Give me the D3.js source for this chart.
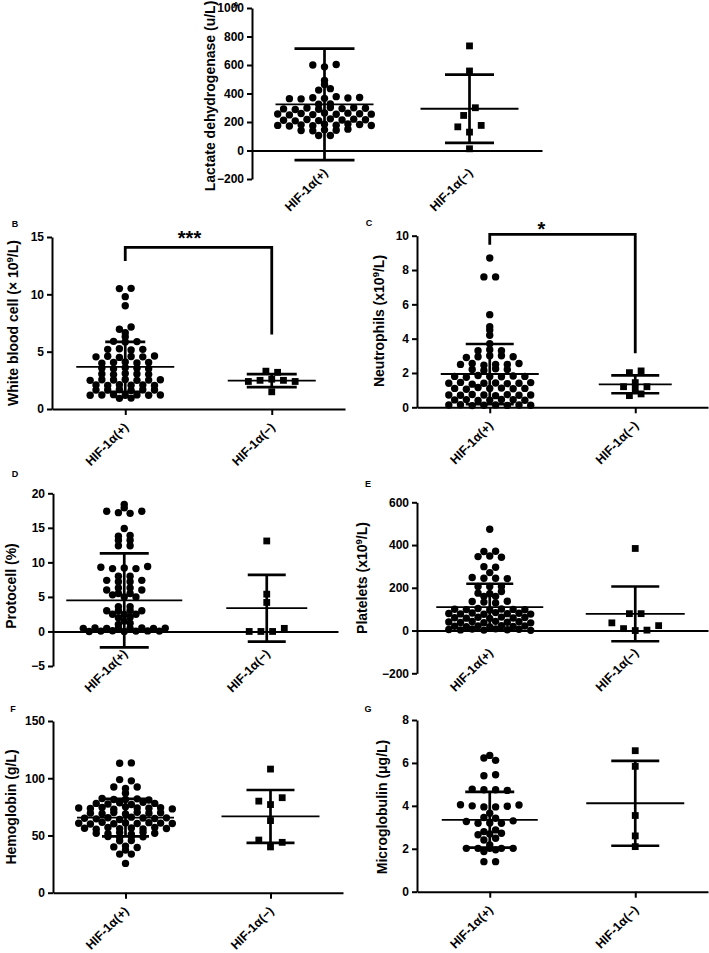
<!DOCTYPE html>
<html><head><meta charset="utf-8">
<script src="https://cdn.jsdelivr.net/npm/d3@7"></script>
<style>body{margin:0;background:#fff}</style>
</head><body><svg id="c" width="709" height="953"></svg>
<script>
const FONT = 'Arial, "Liberation Sans", Helvetica, sans-serif';
const groups = ["HIF-1\u03b1(+)", "HIF-1\u03b1(\u2212)"];

// ---- A: Lactate dehydrogenase ----
const ldhTicks = [-200, 0, 200, 400, 600, 800, 1000];
const ldhPos = [105,105, 140,138,145,142,150, 176,172,180,174,184,178,186,182,175, 212,208,218,210,222,214,220,216,
  256,250,260,252,264,254,262,258,255, 292,288,298,290,302,294,300,296, 325,327, 364,362,370,366,378,368,372,
  424,434, 464, 492, 600,587,603];
const ldhNeg = [734,558,246,300,166,129,176,12];
const ldhMean = [324, 293];
const ldhSD = [391, 239];

// ---- B: White blood cell ----
const wbcTicks = [0, 5, 10, 15];
const wbcPos = [0.93,0.95, 1.2,1.22,1.25,1.2,1.23,1.2,1.22, 1.65,1.66,1.7,1.62,1.68,1.66, 2.1,2.05,2.12,2.08,2.1,2.06,
  2.5,2.55,2.53,2.58,2.5,2.52,2.55, 3.05,3.0,3.1,3.05,3.02, 3.55,3.5,3.6,3.55,3.52, 4.0,4.05,4.1,4.02,4.05,
  4.55,4.6,4.5,4.58,4.55,4.62, 5.2,5.25,5.15,5.2, 5.9,5.85,5.88, 6.3, 6.66, 6.95,7.15, 9.0, 9.8, 10.5,10.52];
const wbcNeg = [3.3,2.4,2.5,2.6,3.2,2.5,2.4,1.5];
const wbcMean = [3.67, 2.47];
const wbcSD = [2.18, 0.57];

// ---- C: Neutrophils ----
const neuTicks = [0, 2, 4, 6, 8, 10];
const neuPos = [0.13,0.15,0.1,0.12,0.14,0.11,0.13,0.12, 0.43,0.45,0.4,0.42,0.46,0.44,0.41, 0.72,0.7,0.75,0.72,0.68,0.74,0.7,0.72,
  1.1,1.05,1.15,1.1,1.12,1.08,1.1, 1.4,1.45,1.35,1.4,1.42,1.38,1.4,1.44, 1.8,1.75,1.85,1.8,1.78,1.82,1.8,
  2.2,2.15,2.25,2.2, 2.5,2.55,2.45,2.5,2.5,2.55, 2.9,2.95,3.0,3.0,2.95, 3.3,3.35,3.3, 3.7, 4.2, 4.5, 4.7, 5.4, 7.6,7.6, 8.7];
const neuNeg = [2.02,2.12,1.2,1.07,1.44,1.2,0.68,0.78];
const neuMean = [1.94, 1.34];
const neuSD = [1.75, 0.52];

// ---- D: Protocell ----
const proTicks = [-5, 0, 5, 10, 15, 20];
const proPos = [0.0,0.05,0.1,0.0,0.05,0.08,0.05, 0.45,0.5,0.42,0.48,0.45,0.5,0.44,0.47, 1.0,1.2, 1.5, 2.0,2.05, 2.5,2.45,2.5,
  3.0,3.0,3.05,3.0, 3.6,3.6, 5.3,5.0,5.0, 5.5,5.5, 6.0,6.3,6.3,6.0, 7.4,7.2,7.2,7.4, 8.0,8.0, 9.3,9.1,9.2,9.1,9.4,
  12.4,12.4, 13.2,13.2, 13.8,13.9, 14.9, 17.4,17.2,17.1,17.4, 17.9, 18.4];
const proNeg = [13.1,5.4,4.2,0,0,0,0.45];
const proMean = [4.5, 3.37];
const proSD = [6.8, 4.83];

// ---- E: Platelets ----
const pltTicks = [-200, 0, 200, 400, 600];
const pltPos = [5,3,7,2,8,4,6,1, 20,18,22,17,23,19,21, 40,38,42,37,43,39,41,36, 60,58,62,57,63,59,61,
  80,78,82,76,84,79,81,77, 100,98,103,96,101,99,97, 136,133,129,137, 160,160, 175,172,183, 206,206,206,
  248,245,245,243, 271, 299,296, 346,349,343, 370,371, 474];
const pltNeg = [384,79,79,36,9,0,2,23];
const pltMean = [110, 78];
const pltSD = [109, 128];

// ---- F: Hemoglobin ----
const hgbTicks = [0, 50, 100, 150];
const hgbPos = [25.6, 33.7,33.7, 37.2, 40,40.7,39.5, 45.3,45.5, 49,48.5,49.2,48.8, 52,51.5,52.5,51.2,52.8,52,
  56.3,55.5,57,56,56.6,55.8,56.9,56.1, 60.7,60,61.5,60.2,61,60.5,61.2,60.8,60.4, 65,64.5,65.5,64,66,65.2,64.8,65.4,
  69.5,69,70,68.8,70.2,69.4,69.8, 74,73.5,74.5,73,75,74,73.8,74.2,73.2, 78,77.5,78.5,77,79,78,
  82.3,81.4,81.4,82,81, 86.9, 92.4,91,92.4, 98.8,97.7, 113.1,113.4];
const hgbNeg = [108,80,77,83,63,46,40,44];
const hgbMean = [65.6, 66.6];
const hgbSD = [16.4, 23.1];

// ---- G: Microglobulin ----
const mgbTicks = [0, 2, 4, 6, 8];
const mgbPos = [1.4,1.4, 1.87,1.95, 2.02,2.02,2.02,2.02,2.02, 2.18, 2.41,2.49, 2.65,2.69,2.72, 2.8,2.88,
  3.27,3.19,3.2,3.19,3.3, 3.46,3.42, 3.66, 4.05,4.0,3.95,3.95,3.98,4.04, 4.78,4.75,4.75,4.72, 5.4,5.45, 6.23,6.12,6.35];
const mgbNeg = [6.57,5.84,3.55,2.6,2.1];
const mgbMean = [3.35, 4.12];
const mgbSD = [1.3, 1.98];

// significance brackets (B, C)
const sigTop = [14.1, 10.08];
const sigLeftEnd = [12.9, 9.47];
const sigRightEnd = [6.5, 3.15];
const sigText = ["***", "*"];

// axis titles (parts; second item 1 = superscript)
const titles = {
  A: [["Lactate dehydrogenase (u/L)"]],
  B: [["White blood cell (\u00d7 10"], ["9", 1], ["/L)"]],
  C: [["Neutrophils (x10"], ["9", 1], ["/L)"]],
  D: [["Protocell (%)"]],
  E: [["Platelets (x10"], ["9", 1], ["/L)"]],
  F: [["Hemoglobin (g/L)"]],
  G: [["Microglobulin (\u03bcg/L)"]]
};

// layout (pixels)
const panels = [
  {id:"A", pos:ldhPos, neg:ldhNeg, mean:ldhMean, sd:ldhSD, ticks:ldhTicks,
   L:{ax:252, xe:542, yr:[179,8], zero:true, tx:215, ty:96, lx:236, ly:7.5, meanW:[98,98], capW:[60,49], tol:[2.5,8]}},
  {id:"B", pos:wbcPos, neg:wbcNeg, mean:wbcMean, sd:wbcSD, ticks:wbcTicks, sig:0,
   L:{ax:52, xe:345, yr:[409,237], zero:false, tx:18, ty:323, lx:15, ly:226.5, meanW:[98,88], capW:[40,50], tol:[2.5,8], starDx:-9, starY:244.5}},
  {id:"C", pos:neuPos, neg:neuNeg, mean:neuMean, sd:neuSD, ticks:neuTicks, sig:1,
   L:{ax:417, xe:708, yr:[407.3,235.7], zero:false, tx:384, ty:321, lx:369, ly:225.5, meanW:[98,73], capW:[48,48], tol:[2.5,2.5], starDx:-21, starY:236}},
  {id:"D", pos:proPos, neg:proNeg, mean:proMean, sd:proSD, ticks:proTicks,
   L:{ax:53, xe:338, yr:[666,493.3], zero:true, tx:16, ty:586, lx:15, ly:476.5, meanW:[116,81], capW:[49,38], tol:[2.5,8]}},
  {id:"E", pos:pltPos, neg:pltNeg, mean:pltMean, sd:pltSD, ticks:pltTicks,
   L:{ax:417, xe:708, yr:[673.3,502.3], zero:true, tx:367, ty:578, lx:368, ly:486.5, meanW:[107,99], capW:[47,48], tol:[2.5,8]}},
  {id:"F", pos:hgbPos, neg:hgbNeg, mean:hgbMean, sd:hgbSD, ticks:hgbTicks,
   L:{ax:53, xe:343, yr:[892.7,721], zero:false, tx:16, ty:807, lx:13, ly:711.5, meanW:[97,98], capW:[47,48], tol:[2.5,8]}},
  {id:"G", pos:mgbPos, neg:mgbNeg, mean:mgbMean, sd:mgbSD, ticks:mgbTicks,
   L:{ax:417, xe:708, yr:[891.7,720], zero:false, tx:387, ty:807, lx:368, ly:711.5, meanW:[96,98], capW:[49,48], tol:[2.5,8]}}
];

const STEP = 11.7, R = 3.7, SQ = 6.8;
const svg = d3.select("#c");
svg.append("rect").attr("width", 709).attr("height", 953).attr("fill", "#fff");

// GraphPad-like row layout: values close in y share a row, spread symmetrically
function swarm(vals, y, tolPx) {
  const pts = vals.map((v, i) => ({v, i, py: y(v)}));
  const sorted = pts.slice().sort((a, b) => b.py - a.py || a.i - b.i);
  const rows = []; let cur = null;
  sorted.forEach(p => {
    if (!cur || cur.start - p.py > tolPx) { cur = {start: p.py, pts: []}; rows.push(cur); }
    cur.pts.push(p);
  });
  rows.forEach(r => {
    r.pts.sort((a, b) => a.i - b.i);
    const n = r.pts.length;
    r.pts.forEach((p, k) => p.dx = (k - (n - 1) / 2) * STEP);
  });
  return pts;
}

function addTitle(sel, parts) {
  parts.forEach((pt, j) => {
    const ts = sel.append("tspan").text(pt[0]);
    if (pt[1]) ts.attr("font-size", 9.5).attr("dy", -5.5);
    else if (j > 0) ts.attr("dy", 5.5);
  });
}

panels.forEach(p => {
  const L = p.L;
  const y = d3.scaleLinear().domain([p.ticks[0], p.ticks[p.ticks.length - 1]]).range(L.yr);
  const x = d3.scalePoint().domain(groups).range([L.ax, L.xe]).padding(0.5);
  const g = svg.append("g");

  // y axis
  const ya = g.append("g").attr("transform", `translate(${L.ax},0)`)
    .call(d3.axisLeft(y).tickValues(p.ticks).tickFormat(d3.format("d")).tickSize(5).tickSizeOuter(0).tickPadding(3));
  ya.select(".domain").attr("stroke", "#000").attr("stroke-width", 2);
  ya.selectAll(".tick line").attr("stroke", "#000").attr("stroke-width", 2);
  ya.selectAll(".tick text").attr("font-size", 12).attr("font-weight", "bold")
    .attr("font-family", FONT).attr("fill", "#000");

  // x axis at y = 0
  const y0 = y(0);
  const xa = g.append("g").attr("transform", `translate(0,${y0})`)
    .call(d3.axisBottom(x).tickSize(L.zero ? 0 : 6).tickSizeOuter(0).tickFormat(""));
  xa.select(".domain").attr("stroke", "#000").attr("stroke-width", 2);
  xa.selectAll(".tick line").attr("stroke", "#000").attr("stroke-width", 2);

  groups.forEach(gn => {
    g.append("text")
      .attr("transform", `translate(${x(gn) + 4},${y0 + (L.zero ? 23 : 19)}) rotate(-45)`)
      .attr("text-anchor", "end").attr("font-family", FONT).attr("font-size", 12.5)
      .attr("font-weight", "bold").text(gn);
  });

  // axis title
  const t = g.append("text")
    .attr("transform", `translate(${L.tx},${L.ty}) rotate(-90)`)
    .attr("text-anchor", "middle").attr("font-family", FONT).attr("font-size", 14)
    .attr("font-weight", "bold");
  addTitle(t, titles[p.id]);

  // panel letter
  g.append("text").attr("x", L.lx).attr("y", L.ly).attr("text-anchor", "middle")
    .attr("font-family", FONT).attr("font-size", 9).attr("font-weight", "bold").text(p.id);

  // points
  const cx1 = x(groups[0]), cx2 = x(groups[1]);
  g.append("g").selectAll("circle").data(swarm(p.pos, y, L.tol[0])).join("circle")
    .attr("cx", d => cx1 + d.dx).attr("cy", d => d.py).attr("r", R).attr("fill", "#000");
  g.append("g").selectAll("rect").data(swarm(p.neg, y, L.tol[1])).join("rect")
    .attr("x", d => cx2 + d.dx - SQ / 2).attr("y", d => d.py - SQ / 2)
    .attr("width", SQ).attr("height", SQ).attr("fill", "#000");

  // mean +/- SD
  [0, 1].forEach(k => {
    const cx = x(groups[k]), m = p.mean[k], s = p.sd[k];
    g.append("line").attr("x1", cx).attr("x2", cx).attr("y1", y(m - s)).attr("y2", y(m + s))
      .attr("stroke", "#000").attr("stroke-width", 2.7);
    [m - s, m + s].forEach(v => g.append("line")
      .attr("x1", cx - L.capW[k] / 2).attr("x2", cx + L.capW[k] / 2).attr("y1", y(v)).attr("y2", y(v))
      .attr("stroke", "#000").attr("stroke-width", 2.7));
    g.append("line").attr("x1", cx - L.meanW[k] / 2).attr("x2", cx + L.meanW[k] / 2)
      .attr("y1", y(m)).attr("y2", y(m)).attr("stroke", "#000").attr("stroke-width", 1.8);
  });

  // significance bracket
  if (p.sig !== undefined) {
    const k = p.sig;
    const path = d3.path();
    path.moveTo(cx1, y(sigLeftEnd[k])); path.lineTo(cx1, y(sigTop[k]));
    path.lineTo(cx2, y(sigTop[k])); path.lineTo(cx2, y(sigRightEnd[k]));
    g.append("path").attr("d", path.toString()).attr("fill", "none").attr("stroke", "#000")
      .attr("stroke-width", 2.8).attr("stroke-linejoin", "miter");
    g.append("text").attr("x", (cx1 + cx2) / 2 + L.starDx).attr("y", L.starY)
      .attr("text-anchor", "middle").attr("font-family", FONT).attr("font-size", 20)
      .attr("font-weight", "bold").text(sigText[k]);
  }
});
</script></body></html>
